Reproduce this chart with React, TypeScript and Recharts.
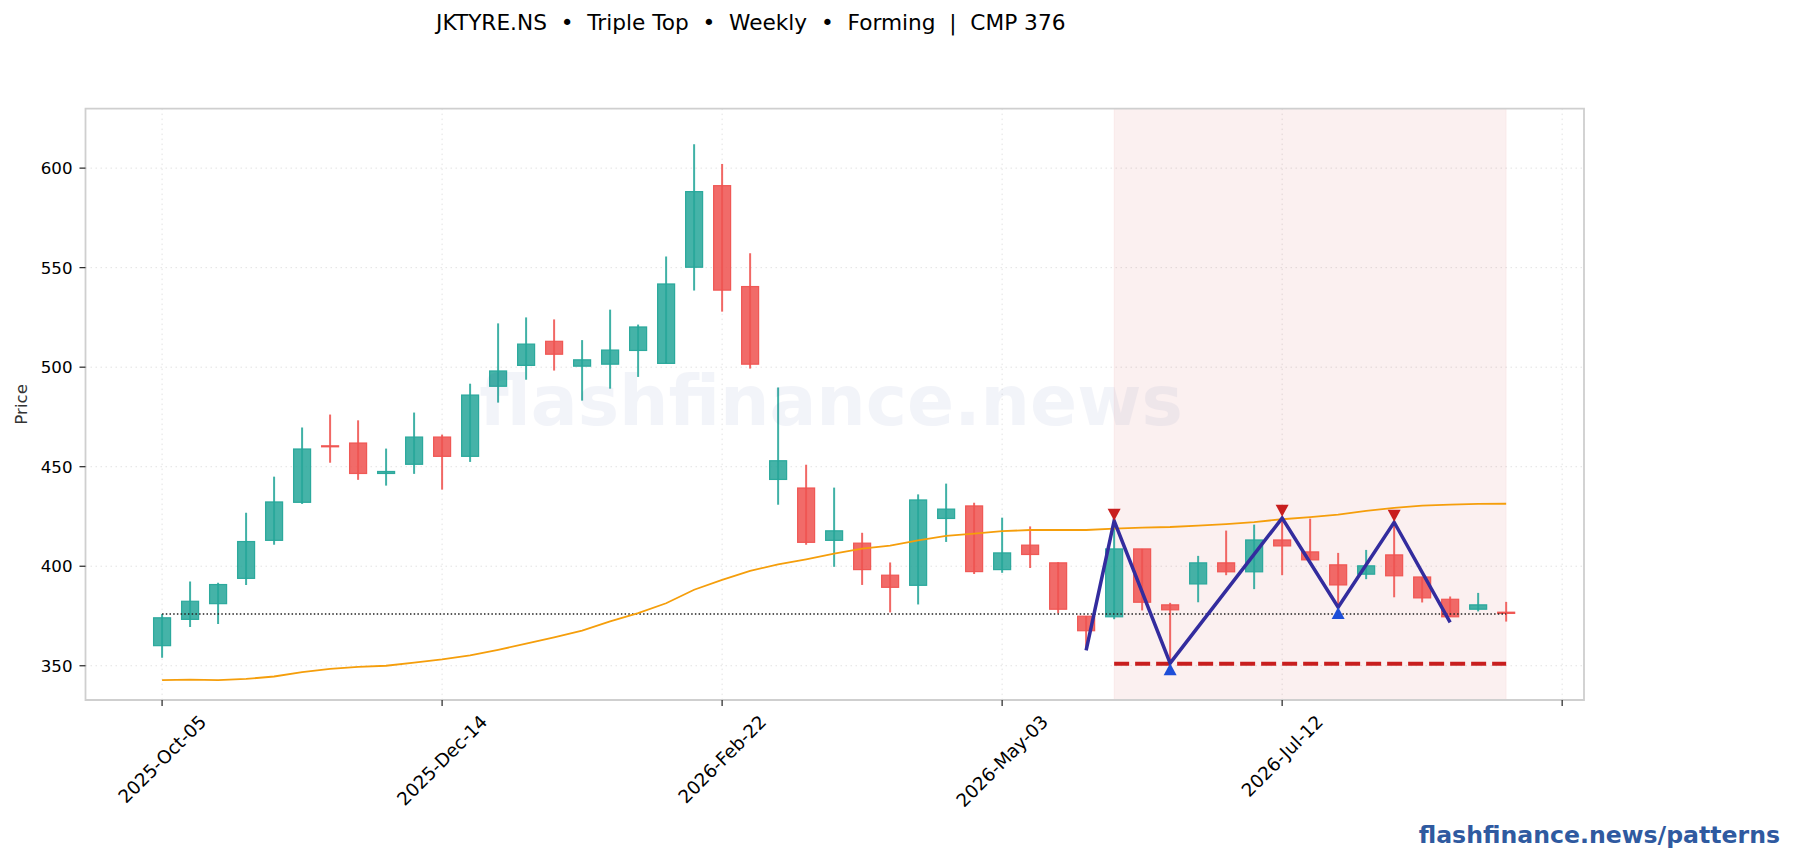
import React from 'react';
import { ComposedChart, Bar, Line, XAxis, YAxis, CartesianGrid, ReferenceArea } from 'recharts';

const FONT = '"DejaVu Sans", sans-serif';

const opens = [360.1, 373.3, 381.2, 393.9, 413, 432.1, 460.5, 461.9, 446.6, 451.2, 464.9, 455.2, 490.4, 500.9, 513, 500.5, 501.5, 508.4, 501.9, 550.2, 591.2, 540.5, 443.6, 439.3, 413, 411.6, 395.5, 390.4, 424, 430.3, 398.3, 410.6, 401.7, 374.9, 374.6, 408.7, 380.6, 391.1, 401.7, 397.2, 413.2, 407.2, 400.7, 396, 405.7, 394.6, 383.4, 378.4, 376.9];
const closes = [374.1, 382.4, 390.8, 412.4, 432.3, 458.9, 460, 446.6, 447.6, 464.9, 455.2, 486, 498.1, 511.6, 506.5, 503.7, 508.6, 520.2, 541.8, 588.2, 538.7, 501.5, 453, 412, 417.8, 398.3, 389.4, 433.3, 428.7, 397.3, 406.7, 405.9, 378.4, 367.6, 408.7, 381.9, 378.1, 401.7, 397.2, 413.2, 410.2, 403.2, 390.6, 400.2, 395.2, 384.1, 374.6, 380.6, 376.3];
const highs = [376, 392.3, 391.7, 426.9, 445, 469.7, 476.2, 473.3, 459.1, 477.2, 466.1, 491.7, 522, 525, 524, 513.6, 528.9, 521.4, 555.6, 612, 602.1, 557.2, 489.8, 451, 439.5, 416.8, 401.9, 436.1, 441.5, 431.9, 424.4, 420, 402, 375, 422.9, 408.7, 381.6, 405.2, 417.9, 420.9, 423.7, 423.9, 406.7, 408.2, 421.2, 394.6, 384.8, 386.6, 382.1];
const lows = [354, 369.5, 371, 390.6, 410.8, 431.3, 452, 443.4, 440.5, 446.4, 438.5, 452.4, 482.2, 493.7, 498.3, 483.2, 489.2, 495.1, 501.9, 538.5, 527.9, 499.3, 430.9, 410.8, 399.7, 390.6, 376.8, 380.8, 412.2, 396.1, 396.7, 399.1, 376.4, 358, 373.4, 377.8, 351.3, 381.9, 395.5, 388.5, 395.5, 403.2, 379.4, 393.5, 384.4, 381.8, 374.6, 377.3, 372.2];
const trendLine = [342.8, 343, 342.8, 343.4, 344.6, 346.8, 348.4, 349.4, 350, 351.6, 353.2, 355.2, 358, 361.1, 364.3, 367.7, 372.3, 376.4, 381.4, 388.2, 393.1, 397.7, 400.9, 403.5, 406.3, 408.8, 410.4, 413, 415.2, 416.4, 417.6, 418.2, 418.2, 418.2, 418.9, 419.4, 419.7, 420.4, 421.2, 422.2, 423.6, 424.7, 425.9, 427.8, 429.3, 430.4, 430.9, 431.3, 431.4];

const tickIndexes = [0, 10, 20, 30, 40, 50];
const tickLabels = ['2025-Oct-05', '2025-Dec-14', '2026-Feb-22', '2026-May-03', '2026-Jul-12', ''];
const priceTicks = [350, 400, 450, 500, 550, 600];

const currentPrice = 376;
const necklinePrice = 351;
const patternStart = 34;
const patternEnd = 48;

const zigzagIndexes = [33, 34, 36, 40, 42, 44, 46];
const zigzagPrices = [357.7, 422.8, 351.3, 424.2, 379.4, 422.1, 371.8];
const peakIndexes = [34, 40, 44];
const peakMarks = [425.9, 427.9, 425.4];
const troughIndexes = [36, 42];
const troughMarks = [348.2, 376.5];

const xMin = -2.735;
const xMax = 50.78;
const yMin = 332.8;
const yMax = 629.9;

const tableData = opens.map((open, i) => {
  const zig = zigzagIndexes.indexOf(i);
  const peak = peakIndexes.indexOf(i);
  const trough = troughIndexes.indexOf(i);
  return {
    idx: i,
    open,
    close: closes[i],
    high: highs[i],
    low: lows[i],
    range: [lows[i], highs[i]],
    trend: trendLine[i],
    cmp: currentPrice,
    neckline: i >= patternStart && i <= patternEnd ? necklinePrice : null,
    zigzag: zig >= 0 ? zigzagPrices[zig] : null,
    peak: peak >= 0 ? peakMarks[peak] : null,
    trough: trough >= 0 ? troughMarks[trough] : null,
  };
});

const Candle = (props: any) => {
  const { x, y, width, height, payload } = props;
  const { open, close, high, low } = payload;
  const up = close >= open;
  const color = up ? '#26a69a' : '#ef5350';
  const perUnit = height / (high - low);
  const top = y + (high - Math.max(open, close)) * perUnit;
  const bodyH = Math.max(Math.abs(open - close) * perUnit, 0.5);
  // the reference snaps candles a little left of the tick
  const left = x - 0.5;
  const cx = left + width / 2;
  return (
    <g>
      <line x1={cx} x2={cx} y1={y} y2={y + height} stroke={color} strokeOpacity={0.88} strokeWidth={2} />
      <rect x={left} y={top} width={width} height={bodyH} fill={color} fillOpacity={0.86} stroke={color} strokeOpacity={0.95} strokeWidth={1.2} />
    </g>
  );
};

const PeakDot = (props: any) => {
  const { cx, cy, index } = props;
  if (cy == null || props.value == null) return <g key={index} />;
  return <polygon key={index} points={`${cx - 6.5},${cy - 6} ${cx + 6.5},${cy - 6} ${cx},${cy + 6}`} fill="#c81e1e" />;
};

const TroughDot = (props: any) => {
  const { cx, cy, index } = props;
  if (cy == null || props.value == null) return <g key={index} />;
  return <polygon key={index} points={`${cx - 6.5},${cy + 6} ${cx + 6.5},${cy + 6} ${cx},${cy - 6}`} fill="#1d4ed8" />;
};

const measure = (text: string) => {
  const ctx = document.createElement('canvas').getContext('2d');
  if (!ctx) return text.length * 10;
  ctx.font = `18.3px ${FONT}`;
  return ctx.measureText(text).width;
};

const DateTick = (props: any) => {
  const { x, y, payload } = props;
  const label = tickLabels[tickIndexes.indexOf(payload.value)];
  if (!label) return <g />;
  const half = ((measure(label) + 18) / 2) * Math.SQRT1_2;
  const cy = y + 4 + half;
  return (
    <text
      x={x}
      y={cy}
      textAnchor="middle"
      dominantBaseline="central"
      fontSize={18.3}
      fontFamily={FONT}
      fill="#000"
      transform={`rotate(-45 ${x} ${cy})`}
    >
      {label}
    </text>
  );
};

const App: React.FC = () => {
  return (
    <div style={{ position: 'absolute', left: 0, top: 0, width: 1793, height: 860, background: '#fff', overflow: 'hidden' }}>
      <ComposedChart
        width={1793}
        height={860}
        data={tableData}
        margin={{ top: 108.6, right: 209, left: 0, bottom: 0 }}
      >
        <CartesianGrid stroke="#e2e2e2" strokeDasharray="1.5 3.5" strokeWidth={1} />
        <XAxis
          dataKey="idx"
          type="number"
          domain={[xMin, xMax]}
          ticks={tickIndexes}
          allowDataOverflow
          height={160}
          axisLine={false}
          tickLine={{ stroke: '#222', strokeWidth: 1.2 }}
          tickSize={6}
          tick={<DateTick />}
          interval={0}
        />
        <YAxis
          type="number"
          domain={[yMin, yMax]}
          ticks={priceTicks}
          allowDataOverflow
          width={85.5}
          axisLine={false}
          tickLine={{ stroke: '#222', strokeWidth: 1.2 }}
          tickSize={6}
          tickMargin={7}
          tick={{ fontSize: 16.67, fontFamily: FONT, fill: '#000' }}
          label={{ value: 'Price', angle: -90, position: 'insideLeft', offset: 21, style: { fontSize: 16.67, fontFamily: FONT, fill: '#333', textAnchor: 'middle' } }}
        />
        <ReferenceArea x1={patternStart} x2={patternEnd} fill="#c62828" fillOpacity={0.07} stroke="#c62828" strokeOpacity={0.05} />
        <ReferenceArea x1={xMin} x2={xMax} y1={yMin} y2={yMax} fill="none" stroke="#cfcfcf" strokeWidth={1.8} />
        <Line dataKey="cmp" stroke="#222" strokeWidth={1.3} strokeDasharray="1.5 2.2" dot={false} isAnimationActive={false} />
        <Bar dataKey="range" barSize={17} shape={<Candle />} isAnimationActive={false} />
        <Line dataKey="trend" stroke="#f59e0b" strokeWidth={1.8} dot={false} isAnimationActive={false} />
        <Line dataKey="neckline" stroke="#c81e1e" strokeWidth={4} strokeDasharray="15 6" dot={false} isAnimationActive={false} />
        <Line dataKey="zigzag" stroke="#332c9e" strokeWidth={3.5} connectNulls dot={false} isAnimationActive={false} />
        <Line dataKey="peak" stroke="none" legendType="none" dot={<PeakDot />} isAnimationActive={false} />
        <Line dataKey="trough" stroke="none" legendType="none" dot={<TroughDot />} isAnimationActive={false} />
      </ComposedChart>
      <div style={{ position: 'absolute', left: 436, top: 10, fontFamily: FONT, fontSize: 21.67, color: '#000', whiteSpace: 'pre', lineHeight: '26px' }}>
        JKTYRE.NS  •  Triple Top  •  Weekly  •  Forming  |  CMP 376
      </div>
      <div style={{ position: 'absolute', left: 0, width: 1662, top: 359, textAlign: 'center', fontFamily: FONT, fontWeight: 700, fontSize: 69.5, color: '#1f3a93', opacity: 0.05, lineHeight: '84px', pointerEvents: 'none' }}>
        flashfinance.news
      </div>
      <div style={{ position: 'absolute', right: 13, top: 820, fontFamily: FONT, fontWeight: 700, fontSize: 23.6, color: '#2f5aa0', lineHeight: '30px' }}>
        flashfinance.news/patterns
      </div>
    </div>
  );
};

export default App;
